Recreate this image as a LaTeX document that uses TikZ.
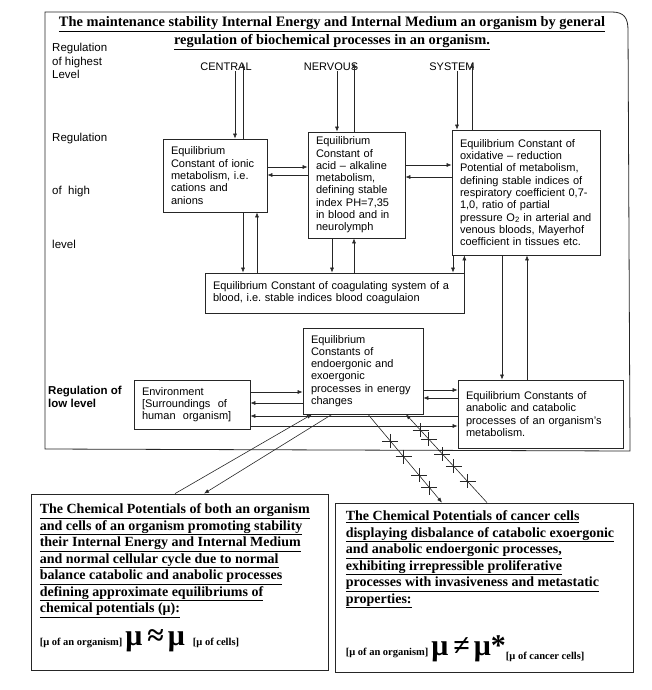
\documentclass[tikz,border=0pt]{standalone}
\usepackage{fontspec}
\setmainfont{Liberation Serif}
\setsansfont{Liberation Sans}
\usetikzlibrary{arrows.meta,calc}
\frenchspacing
\begin{document}
\begin{tikzpicture}[x=1pt,y=-1pt,
  every node/.style={inner sep=0pt},
  box/.style={draw=black!85, line width=0.7pt, font=\sffamily\fontsize{11}{12.3}\selectfont, align=left, inner xsep=8pt},
  bigbox/.style={draw=black!85, line width=0.8pt},
  arr/.style={line width=0.6pt, draw=black!85, -{Latex[length=5pt,width=4pt]}},
  ln/.style={line width=0.6pt, draw=black!85},
  lbl/.style={font=\sffamily\fontsize{11.5}{13.5}\selectfont, align=left, anchor=west},
  cns/.style={font=\sffamily\fontsize{11}{13}\selectfont},
  bt/.style={font=\bfseries\fontsize{14}{16.5}\selectfont, align=left, anchor=north west}
]
\useasboundingbox (0,0) rectangle (651,690);
% outer frame
\draw[ln, line width=0.8pt] (45,449) -- (45,12) -- (612,12) .. controls (624,12) and (628,18) .. (628,30) -- (630,451) -- cycle;
% title
\node[font=\bfseries\fontsize{14.4}{18}\selectfont, align=center] (title) at (332,33)
  {\underline{The maintenance stability Internal Energy and Internal Medium an organism by general}\\
   \underline{regulation of biochemical processes in an organism.}};
% left labels
\node[lbl, anchor=north west] (lv1) at (52,43) {Regulation\\of highest\\Level};
\node[lbl] (lv2a) at (52,139) {Regulation};
\node[lbl] (lv2b) at (52,192) {of\ \ high};
\node[lbl] (lv2c) at (52,244) {level};
\node[lbl, font=\sffamily\bfseries\fontsize{11.5}{12.5}\selectfont, anchor=north west] (lv3) at (48,386) {Regulation of\\low level};
% CNS labels
\node[cns] (central) at (226,67) {CENTRAL};
\node[cns] (nervous) at (331,67) {NERVOUS};
\node[cns] (system) at (452,67) {SYSTEM};
% boxes
\node[box, text width=88pt, minimum height=73pt] (box1) at (215,175.5)
  {Equilibrium\\Constant of ionic\\metabolism, i.e.\\cations and\\anions};
\node[box, text width=81pt, minimum height=106pt] (box2) at (356.5,185)
  {Equilibrium\\Constant of\\acid -- alkaline\\metabolism,\\defining stable\\index PH=7,35\\in blood and in\\neurolymph};
\node[box, text width=132pt, minimum height=125pt] (box3) at (526,192.5)
  {Equilibrium Constant of\\oxidative -- reduction\\Potential of metabolism,\\defining stable indices of\\respiratory coefficient 0,7-\\1,0, ratio of partial\\pressure O\textsubscript{2} in arterial and\\venous bloods, Mayerhof\\coefficient in tissues etc.};
\node[box, text width=243pt, minimum height=40pt] (coag) at (334.5,293)
  {Equilibrium Constant of coagulating system of a\\blood, i.e. stable indices blood coagulaion};
\node[box, text width=104pt, minimum height=86pt] (energy) at (363,371)
  {Equilibrium\\Constants of\\endoergonic and\\exoergonic\\processes in energy\\changes};
\node[box, text width=100pt, minimum height=49pt] (env) at (192,404.5)
  {Environment\\{[Surroundings\ \ of}\\human\ \ organism]};
\node[box, text width=149pt, minimum height=68pt] (anab) at (540.5,414)
  {Equilibrium Constants of\\anabolic and catabolic\\processes of an organism's\\metabolism.};
% bottom boxes
\node[bigbox, minimum width=297pt, minimum height=176pt] (bl) at (179.5,582) {};
\node[bigbox, minimum width=298pt, minimum height=169pt] (br) at (484,587.5) {};
\node[bt] (blt) at ([xshift=9pt,yshift=-10pt]bl.north west)
  {\underline{The Chemical Potentials of both an organism}\\
   \underline{and cells of an organism promoting stability}\\
   \underline{their Internal Energy and Internal Medium}\\
   \underline{and normal cellular cycle due to normal}\\
   \underline{balance catabolic and anabolic processes}\\
   \underline{defining approximate equilibriums of}\\
   \underline{chemical potentials (μ):}\\[11pt]
   {\fontsize{10.5}{12}\selectfont [μ of an organism]}\hspace{3pt}{\fontsize{30}{30}\selectfont μ\hspace{5pt}≈\hspace{4pt}μ}\hspace{8pt}{\fontsize{10.5}{12}\selectfont [μ of cells]}};
\node[bt] (brt) at ([xshift=11pt,yshift=-8pt]br.north west)
  {\underline{The Chemical Potentials of cancer cells}\\
   \underline{displaying disbalance of catabolic exoergonic}\\
   \underline{and anabolic endoergonic processes,}\\
   \underline{exhibiting irrepressible proliferative}\\
   \underline{processes with invasiveness and metastatic}\\
   \underline{properties:}\\[27pt]
   {\fontsize{10.5}{12}\selectfont [μ of an organism]}\hspace{3pt}{\fontsize{30}{30}\selectfont μ\hspace{5pt}≠\hspace{4pt}μ*}{\fontsize{10.5}{12}\selectfont\raisebox{-4pt}{[μ of cancer cells]}}};
% CNS arrows
\draw[arr] ([xshift=9pt]central.south) -- ([xshift=9pt]central.south |- box1.north);
\draw[arr] ([xshift=17pt]central.south |- box1.north) -- ([xshift=17pt]central.north);
\draw[arr] ([xshift=6pt]nervous.south) -- ([xshift=6pt]nervous.south |- box2.north);
\draw[arr] ([xshift=23pt]nervous.south |- box2.north) -- ([xshift=23pt]nervous.north);
\draw[arr] ([xshift=5pt]system.south) -- ([xshift=5pt]system.south |- box3.north);
\draw[arr] ([xshift=20pt]system.south |- box3.north) -- ([xshift=20pt]system.north);
% horizontal arrows upper
\draw[arr] ([yshift=8.5pt]box1.east) -- ([yshift=8.5pt]box1.east -| box2.west);
\draw[arr] ([yshift=0.5pt]box1.east -| box2.west) -- ([yshift=0.5pt]box1.east);
\draw[arr] ([yshift=20pt]box2.east) -- ([yshift=20pt]box2.east -| box3.west);
\draw[arr] ([yshift=8pt]box2.east -| box3.west) -- ([yshift=8pt]box2.east);
% vertical arrows to coag
\draw[arr] ([xshift=28pt]box1.south) -- ([xshift=28pt]box1.south |- coag.north);
\draw[arr] ([xshift=42pt]box1.south |- coag.north) -- ([xshift=42pt]box1.south);
\draw[arr] ([xshift=-24.5pt]box2.south) -- ([xshift=-24.5pt]box2.south |- coag.north);
\draw[arr] ([xshift=-2.5pt]box2.south |- coag.north) -- ([xshift=-2.5pt]box2.south);
\draw[arr] ([xshift=-73pt]box3.south) -- ([xshift=-73pt]box3.south |- coag.north);
\draw[arr] (coag.north east) -- (coag.north east |- box3.south);
% box3 <-> anabolic
\draw[arr] ([xshift=-24pt]box3.south) -- ([xshift=-24pt]box3.south |- anab.north);
\draw[arr] ([xshift=1pt]box3.south |- anab.north) -- ([xshift=1pt]box3.south);
% env <-> energy
\draw[arr] ([yshift=12.5pt]env.east) -- ([yshift=12.5pt]env.east -| energy.west);
\draw[arr] ([yshift=1.5pt]env.east -| energy.west) -- ([yshift=1.5pt]env.east);
% anabolic <-> env
\draw[arr] ([yshift=-11.5pt]env.east -| anab.west) -- ([yshift=-11.5pt]env.east);
\draw[arr] ([yshift=-21.5pt]env.east) -- ([yshift=-21.5pt]env.east -| anab.west);
% energy <-> anabolic
\draw[arr] ([yshift=-19pt]energy.east) -- ([yshift=-19pt]energy.east -| anab.west);
\draw[arr] ([yshift=-27pt]energy.east -| anab.west) -- ([yshift=-27pt]energy.east);
% diagonals to bottom-left
\draw[arr] ([xshift=-4.5pt]bl.north) -- ([xshift=-51pt]energy.south);
\draw[arr] ([xshift=-31pt]energy.south) -- ([xshift=24.5pt]bl.north);
% crossed diagonals to bottom-right
\coordinate (cS) at ([xshift=5pt]energy.south);
\coordinate (cE) at ([xshift=-42pt]br.north);
\coordinate (dS) at ([xshift=43pt]energy.south);
\coordinate (dE) at ([xshift=3pt]br.north);
\draw[arr] (cS) -- (cE);
\draw[arr] (dE) -- (dS);
\foreach \t in {0.30,0.48,0.69,0.83}{
  \draw[ln] ($(cS)!\t!(cE)$) +(-8,0) -- +(8,0);
  \draw[ln] ($(cS)!\t!(cE)$) +(0,-7) -- +(0,7);
}
\foreach \t in {0.18,0.28,0.45,0.59,0.76}{
  \draw[ln] ($(dS)!\t!(dE)$) +(-8,0) -- +(8,0);
  \draw[ln] ($(dS)!\t!(dE)$) +(0,-7) -- +(0,7);
}
\end{tikzpicture}
\end{document}
